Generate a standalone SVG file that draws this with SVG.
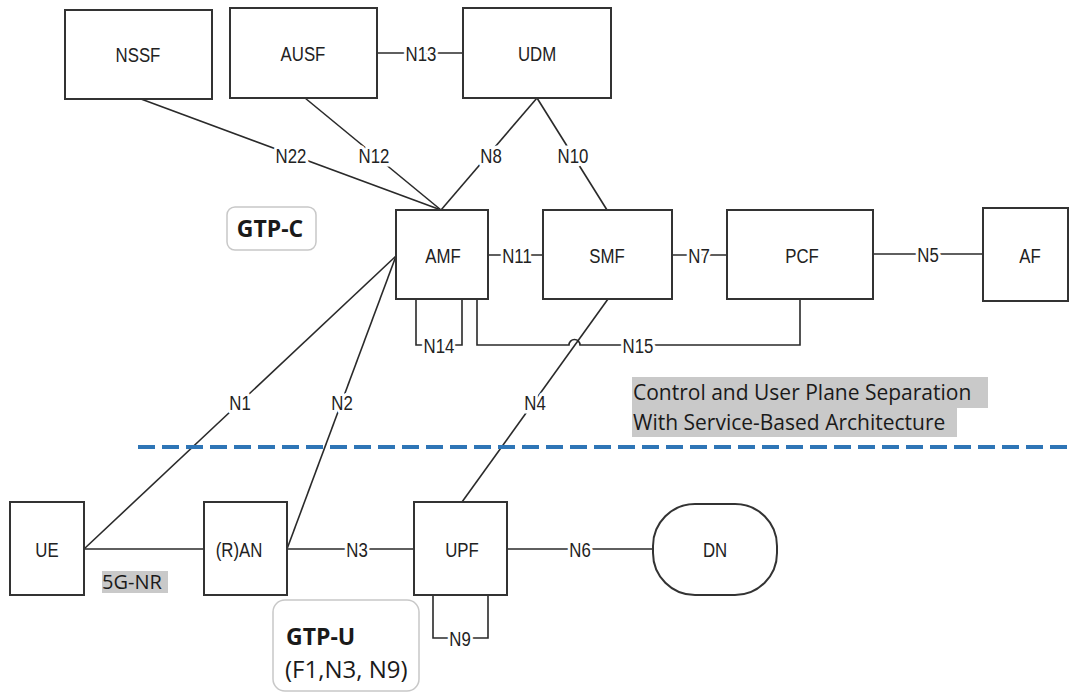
<svg xmlns="http://www.w3.org/2000/svg" width="1070" height="693" viewBox="0 0 1070 693">
<style>
.box{fill:#fff;stroke:#333;stroke-width:2}
.ln{fill:none;stroke:#2a2a2a;stroke-width:1.6}
.nl{font-family:"Liberation Sans",Arial,sans-serif;font-size:21px;fill:#222;text-anchor:middle}
.lb{font-family:"Liberation Sans",Arial,sans-serif;font-size:21px;fill:#222;text-anchor:middle;paint-order:stroke;stroke:#fff;stroke-width:7px;stroke-linejoin:round}
.cal{font-family:"Open Sans","Liberation Sans",sans-serif;fill:#1a1a1a}
.tag{fill:#fff;stroke:#c8c8c8;stroke-width:1.5}
.hl{fill:#c9c9c9}
</style>
<rect width="1070" height="693" fill="#fff"/>
<g id="connectors">
<line class="ln" x1="141" y1="99" x2="441" y2="210"/>
<line class="ln" x1="305" y1="98" x2="441" y2="210"/>
<line class="ln" x1="537" y1="98" x2="441" y2="210"/>
<line class="ln" x1="537" y1="98" x2="607" y2="210"/>
<line class="ln" x1="377" y1="53" x2="463" y2="53"/>
<line class="ln" x1="488" y1="255" x2="543" y2="255"/>
<line class="ln" x1="672" y1="255" x2="727" y2="255"/>
<line class="ln" x1="873" y1="254" x2="983" y2="254"/>
<polyline class="ln" points="416,299 416,345 462,345 462,299"/>
<path class="ln" d="M477,299 V345 H569 A5,5 0 0 1 580,345 H800 V299"/>
<line class="ln" x1="608" y1="299" x2="462" y2="502"/>
<line class="ln" x1="84" y1="549" x2="396" y2="256"/>
<line class="ln" x1="287" y1="549" x2="396" y2="256"/>
<line class="ln" x1="84" y1="549" x2="204" y2="549"/>
<line class="ln" x1="287" y1="549" x2="414" y2="549"/>
<line class="ln" x1="507" y1="549" x2="653" y2="549"/>
<polyline class="ln" points="433,595 433,638 488,638 488,595"/>
<line x1="138" y1="447" x2="1070" y2="447" stroke="#2e75b6" stroke-width="4" stroke-dasharray="17 7"/>
<text class="lb" transform="translate(421,61) scale(0.8,1)">N13</text>
<text class="lb" transform="translate(291,163) scale(0.8,1)">N22</text>
<text class="lb" transform="translate(374,163) scale(0.8,1)">N12</text>
<text class="lb" transform="translate(491,163) scale(0.8,1)">N8</text>
<text class="lb" transform="translate(573,163) scale(0.8,1)">N10</text>
<text class="lb" transform="translate(517,263) scale(0.8,1)">N11</text>
<text class="lb" transform="translate(699,263) scale(0.8,1)">N7</text>
<text class="lb" transform="translate(928,262) scale(0.8,1)">N5</text>
<text class="lb" transform="translate(439,353) scale(0.8,1)">N14</text>
<text class="lb" transform="translate(638,353) scale(0.8,1)">N15</text>
<text class="lb" transform="translate(240,410) scale(0.8,1)">N1</text>
<text class="lb" transform="translate(342,410) scale(0.8,1)">N2</text>
<text class="lb" transform="translate(535,410) scale(0.8,1)">N4</text>
<text class="lb" transform="translate(357,557) scale(0.8,1)">N3</text>
<text class="lb" transform="translate(580,557) scale(0.8,1)">N6</text>
<text class="lb" transform="translate(460,646) scale(0.8,1)">N9</text>
</g>
<g id="NSSF"><rect class="box" x="65" y="10" width="147" height="89"/><text class="nl" transform="translate(138,62) scale(0.8,1)">NSSF</text></g>
<g id="AUSF"><rect class="box" x="230" y="8" width="147" height="90"/><text class="nl" transform="translate(303,61) scale(0.8,1)">AUSF</text></g>
<g id="UDM"><rect class="box" x="463" y="8" width="148" height="90"/><text class="nl" transform="translate(537,61) scale(0.8,1)">UDM</text></g>
<g id="AMF"><rect class="box" x="396" y="210" width="92" height="89"/><text class="nl" transform="translate(443,263) scale(0.8,1)">AMF</text></g>
<g id="SMF"><rect class="box" x="543" y="210" width="129" height="89"/><text class="nl" transform="translate(607,263) scale(0.8,1)">SMF</text></g>
<g id="PCF"><rect class="box" x="727" y="210" width="146" height="89"/><text class="nl" transform="translate(802,263) scale(0.8,1)">PCF</text></g>
<g id="AF"><rect class="box" x="983" y="208" width="85" height="93"/><text class="nl" transform="translate(1030,263) scale(0.8,1)">AF</text></g>
<g id="UE"><rect class="box" x="10" y="502" width="74" height="93"/><text class="nl" transform="translate(47,557) scale(0.8,1)">UE</text></g>
<g id="RAN"><rect class="box" x="204" y="502" width="83" height="93"/><text class="nl" transform="translate(239,557) scale(0.8,1)">(R)AN</text></g>
<g id="UPF"><rect class="box" x="414" y="502" width="93" height="93"/><text class="nl" transform="translate(462,557) scale(0.8,1)">UPF</text></g>
<g id="DN"><rect class="box" x="653" y="504" width="124" height="91" rx="42" ry="42"/><text class="nl" transform="translate(715,557) scale(0.8,1)">DN</text></g>
<g id="GTP-C"><rect class="tag" x="227" y="207" width="89" height="43" rx="8"/><text class="cal" x="270" y="237" font-size="23" font-weight="bold" text-anchor="middle">GTP-C</text></g>
<g id="GTP-U"><rect class="tag" x="273" y="600" width="146" height="91" rx="12"/><text class="cal" x="286" y="645" font-size="23" font-weight="bold">GTP-U</text><text class="cal" x="285" y="678" font-size="24">(F1,N3, N9)</text></g>
<g id="note5GNR"><rect class="hl" x="102" y="571" width="66" height="22"/><text class="cal" x="102" y="589" font-size="20">5G-NR</text></g>
<g id="noteCUPS"><rect class="hl" x="632" y="377" width="356" height="31"/><rect class="hl" x="632" y="408" width="325" height="29"/><text class="cal" x="633" y="400" font-size="21">Control and User Plane Separation</text><text class="cal" x="633" y="430" font-size="21">With Service-Based Architecture</text></g>
</svg>
